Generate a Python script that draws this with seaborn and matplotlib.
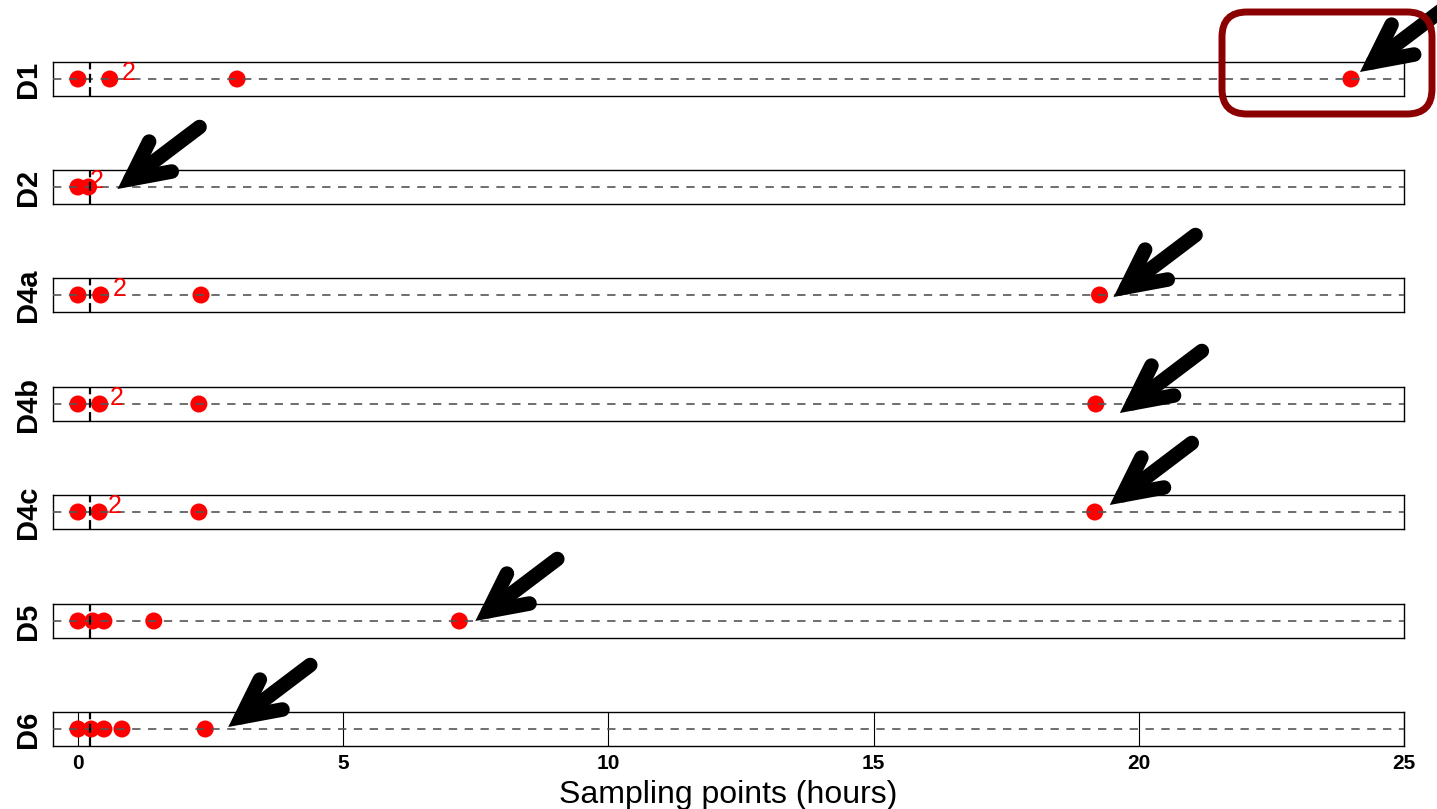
import matplotlib
matplotlib.use("Agg")
import matplotlib.pyplot as plt
import seaborn as sns
import pandas as pd
from matplotlib.patches import FancyBboxPatch
from matplotlib.transforms import offset_copy

sns.set_theme(style="white")
plt.rcParams["font.family"] = ["Liberation Sans", "DejaVu Sans"]
plt.rcParams["text.color"] = "black"
plt.rcParams["axes.labelcolor"] = "black"
plt.rcParams["xtick.color"] = "black"

# ---- data ----
donors = ["D1", "D2", "D4a", "D4b", "D4c", "D5", "D6"]
times_D1 = [0.0, 0.60, 3.0, 24.0]
times_D2 = [0.0, 0.20]
times_D4a = [0.0, 0.43, 2.32, 19.26]
times_D4b = [0.0, 0.41, 2.28, 19.19]
times_D4c = [0.0, 0.40, 2.28, 19.17]
times_D5 = [0.0, 0.28, 0.49, 1.43, 7.19]
times_D6 = [0.0, 0.25, 0.49, 0.83, 2.40]
all_times = [times_D1, times_D2, times_D4a, times_D4b, times_D4c, times_D5, times_D6]
# "2" annotation text and its x position (hours), None = no label
dup_labels = ["2", "2", "2", "2", "2", None, None]
dup_x = [0.83, 0.23, 0.66, 0.60, 0.57, None, None]
ref_line = 0.22
xticks = [0, 5, 10, 15, 20, 25]

# ---- styling / layout ----
W, H = 1437, 809
fig = plt.figure(figsize=(W / 100, H / 100), dpi=100)

left_px, right_px = 53, 1404
tops_px = [62, 170, 278, 387, 495, 604, 712]
panel_h = 34
# arrow tip offset from the highlighted point (pixels, y up)
tip_off = [(9, 7), (29, -2), (14, -2), (24, -9), (15, 7), (16, 0), (23, 2)]

axes = []
for i, (name, t) in enumerate(zip(donors, all_times)):
    top = tops_px[i]
    ax = fig.add_axes([left_px / W, 1 - (top + panel_h) / H,
                       (right_px - left_px) / W, panel_h / H])
    df = pd.DataFrame({"time": t, "y": [0] * len(t)})
    sns.scatterplot(data=df, x="time", y="y", ax=ax, color="#ff0000",
                    s=150, edgecolor="none", zorder=3, legend=False)
    ax.axhline(0, color="#555555", lw=1.2, ls=(0, (5, 4.5)), zorder=4)
    ax.axvline(ref_line, color="black", lw=1.6, ls=(0, (4, 2)), zorder=5)
    ax.set_xlim(-0.47, 25.0)
    ax.set_ylim(-1, 1)
    ax.set_yticks([])
    ax.set_ylabel(name, fontsize=21, fontweight="bold", labelpad=8)
    ax.set_xlabel("")
    for sp in ax.spines.values():
        sp.set_color("black")
        sp.set_linewidth(1.0)
        sp.set_visible(True)
    if dup_labels[i] is not None:
        ax.annotate(dup_labels[i], xy=(dup_x[i], 0), xycoords="data",
                    xytext=(0, 6), textcoords="offset pixels",
                    color="#ff0000", fontsize=18, ha="left", va="center",
                    annotation_clip=False, zorder=6)
    # arrow to the last sampling point
    last = t[-1]
    ox, oy = tip_off[i]
    ax.annotate("", xy=(last, 0),
                xycoords=offset_copy(ax.transData, fig=fig, x=ox, y=oy, units="dots"),
                xytext=(82, 62), textcoords="offset pixels",
                arrowprops=dict(arrowstyle="->,head_length=2.7,head_width=1.35",
                                mutation_scale=10, lw=10.5, color="black",
                                shrinkA=0, shrinkB=0, capstyle="round",
                                joinstyle="miter"),
                annotation_clip=False, zorder=7)
    if i < len(donors) - 1:
        ax.set_xticks([])
    else:
        ax.set_xticks(xticks)
        ax.set_xticklabels([str(v) for v in xticks], fontsize=15, fontweight="bold")
        ax.tick_params(axis="x", length=0, pad=6)
        ax.xaxis.grid(True, color="black", lw=0.8)
        ax.set_axisbelow(True)
        ax.set_xlabel("Sampling points (hours)", fontsize=23, labelpad=5)
    axes.append(ax)

# highlight box around D1 last point (pixel geometry converted to inches)
bx0, bx1, by_top, by_bot = 1222, 1432, 12, 114
box = FancyBboxPatch((bx0 / 100, (H - by_bot) / 100), (bx1 - bx0) / 100, (by_bot - by_top) / 100,
                     boxstyle="round,pad=0,rounding_size=0.25",
                     transform=fig.dpi_scale_trans, fill=False,
                     edgecolor="#8b0000", lw=5, zorder=10)
box.set_clip_on(False)
fig.patches.append(box)

fig.savefig("out.png", dpi=100)
